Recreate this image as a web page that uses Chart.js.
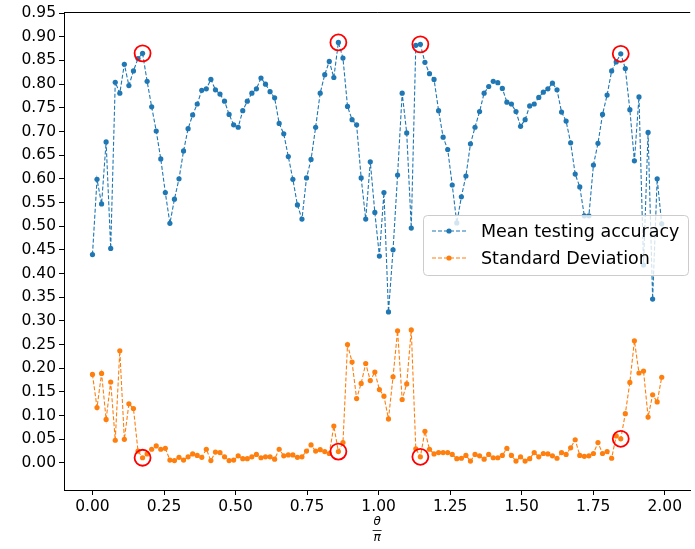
<!DOCTYPE html>
<html>
<head>
<meta charset="utf-8">
<script src="https://cdn.jsdelivr.net/npm/chart.js@4.4.1/dist/chart.umd.min.js"></script>
<style>
  html, body { margin: 0; padding: 0; background: #ffffff; overflow: hidden; }
  #wrap { position: relative; width: 700px; height: 549px; }
</style>
</head>
<body>
<div id="wrap"><canvas id="c" width="700" height="549"></canvas></div>
<script>
// theta / pi for each sample
const thetas = [
  0.0000, 0.0159, 0.0318, 0.0477, 0.0637, 0.0796, 0.0955, 0.1114, 0.1273, 0.1432,
  0.1592, 0.1751, 0.1910, 0.2069, 0.2228, 0.2387, 0.2546, 0.2706, 0.2865, 0.3024,
  0.3183, 0.3342, 0.3501, 0.3661, 0.3820, 0.3979, 0.4138, 0.4297, 0.4456, 0.4615,
  0.4775, 0.4934, 0.5093, 0.5252, 0.5411, 0.5570, 0.5730, 0.5889, 0.6048, 0.6207,
  0.6366, 0.6525, 0.6685, 0.6844, 0.7003, 0.7162, 0.7321, 0.7480, 0.7639, 0.7799,
  0.7958, 0.8117, 0.8276, 0.8435, 0.8594, 0.8754, 0.8913, 0.9072, 0.9231, 0.9390,
  0.9549, 0.9709, 0.9868, 1.0027, 1.0186, 1.0345, 1.0504, 1.0663, 1.0823, 1.0982,
  1.1141, 1.1300, 1.1459, 1.1618, 1.1778, 1.1937, 1.2096, 1.2255, 1.2414, 1.2573,
  1.2732, 1.2892, 1.3051, 1.3210, 1.3369, 1.3528, 1.3687, 1.3847, 1.4006, 1.4165,
  1.4324, 1.4483, 1.4642, 1.4801, 1.4961, 1.5120, 1.5279, 1.5438, 1.5597, 1.5756,
  1.5915, 1.6075, 1.6234, 1.6393, 1.6552, 1.6711, 1.6870, 1.7030, 1.7189, 1.7348,
  1.7507, 1.7666, 1.7825, 1.7985, 1.8144, 1.8303, 1.8462, 1.8621, 1.8780, 1.8939,
  1.9099, 1.9258, 1.9417, 1.9576, 1.9735, 1.9894
];

const accuracy = [
  0.440, 0.599, 0.547, 0.678, 0.453, 0.804, 0.781, 0.842, 0.797, 0.828,
  0.854, 0.865, 0.806, 0.752, 0.701, 0.642, 0.571, 0.506, 0.557, 0.600,
  0.659, 0.706, 0.735, 0.758, 0.787, 0.790, 0.810, 0.788, 0.779, 0.764,
  0.736, 0.714, 0.709, 0.744, 0.764, 0.781, 0.790, 0.813, 0.800, 0.784,
  0.771, 0.717, 0.695, 0.647, 0.599, 0.545, 0.515, 0.602, 0.641, 0.709,
  0.781, 0.820, 0.848, 0.814, 0.888, 0.855, 0.753, 0.725, 0.714, 0.602,
  0.515, 0.636, 0.529, 0.437, 0.571, 0.319, 0.450, 0.608, 0.781, 0.697,
  0.496, 0.882, 0.884, 0.846, 0.822, 0.810, 0.744, 0.688, 0.662, 0.587,
  0.507, 0.562, 0.606, 0.674, 0.709, 0.742, 0.781, 0.795, 0.806, 0.803,
  0.791, 0.762, 0.758, 0.742, 0.711, 0.725, 0.754, 0.758, 0.772, 0.783,
  0.790, 0.802, 0.788, 0.741, 0.722, 0.676, 0.610, 0.583, 0.522, 0.522,
  0.629, 0.675, 0.736, 0.777, 0.828, 0.847, 0.864, 0.833, 0.746, 0.638,
  0.773, 0.418, 0.698, 0.346, 0.600, 0.505
];

const stdDev = [
  0.187, 0.117, 0.189, 0.092, 0.171, 0.048, 0.237, 0.050, 0.125, 0.115,
  0.025, 0.011, 0.019, 0.029, 0.036, 0.029, 0.031, 0.006, 0.005, 0.012,
  0.006, 0.013, 0.019, 0.016, 0.012, 0.029, 0.005, 0.023, 0.022, 0.013,
  0.005, 0.006, 0.015, 0.009, 0.009, 0.013, 0.018, 0.011, 0.013, 0.013,
  0.008, 0.029, 0.015, 0.017, 0.017, 0.012, 0.013, 0.025, 0.038, 0.025,
  0.028, 0.024, 0.020, 0.078, 0.024, 0.043, 0.250, 0.213, 0.136, 0.168,
  0.210, 0.174, 0.192, 0.155, 0.141, 0.093, 0.182, 0.279, 0.134, 0.167,
  0.281, 0.030, 0.013, 0.067, 0.029, 0.019, 0.022, 0.022, 0.022, 0.018,
  0.009, 0.010, 0.016, 0.004, 0.018, 0.015, 0.008, 0.018, 0.011, 0.011,
  0.016, 0.031, 0.016, 0.004, 0.013, 0.004, 0.009, 0.022, 0.013, 0.020,
  0.019, 0.015, 0.010, 0.022, 0.018, 0.032, 0.049, 0.016, 0.014, 0.015,
  0.020, 0.043, 0.020, 0.024, 0.010, 0.057, 0.051, 0.104, 0.170, 0.258,
  0.190, 0.194, 0.097, 0.144, 0.129, 0.181
];

const highlightIdx = [11, 54, 72, 116];
const seriesLabels = ['Mean testing accuracy', 'Standard Deviation'];
const xTicks = [0.00, 0.25, 0.50, 0.75, 1.00, 1.25, 1.50, 1.75, 2.00];
const yTicks = [0.00, 0.05, 0.10, 0.15, 0.20, 0.25, 0.30, 0.35, 0.40, 0.45,
                0.50, 0.55, 0.60, 0.65, 0.70, 0.75, 0.80, 0.85, 0.90, 0.95];

const BLUE = '#1f77b4';
const ORANGE = '#ff7f0e';
const FONT = "'DejaVu Sans', sans-serif";

const toPts = arr => thetas.map((x, i) => ({ x: x, y: arr[i] }));
const hlPts = arr => highlightIdx.map(i => ({ x: thetas[i], y: arr[i] }));

const lineDs = (label, arr, color, order) => ({
  label: label,
  data: toPts(arr),
  borderColor: color,
  backgroundColor: color,
  borderWidth: 1.1,
  borderDash: [4, 2],
  pointRadius: 2.6,
  pointHoverRadius: 2.6,
  pointBorderWidth: 0,
  pointBackgroundColor: color,
  tension: 0,
  showLine: true,
  fill: false,
  order: order
});

const circleDs = (arr) => ({
  label: '_hl',
  data: hlPts(arr),
  showLine: false,
  pointRadius: 8,
  pointHoverRadius: 8,
  pointBorderWidth: 1.8,
  pointBorderColor: '#ff0000',
  pointBackgroundColor: 'rgba(0,0,0,0)',
  borderColor: '#ff0000',
  backgroundColor: 'rgba(0,0,0,0)',
  order: 0
});

const legendPlugin = {
  id: 'mplLegend',
  afterDraw(chart) {
    const ctx = chart.ctx;
    const ca = chart.chartArea;
    ctx.save();
    // top spine
    ctx.strokeStyle = '#000000';
    ctx.lineWidth = 1;
    ctx.beginPath();
    ctx.moveTo(ca.left, Math.round(ca.top) + 0.5);
    ctx.lineTo(ca.right, Math.round(ca.top) + 0.5);
    ctx.stroke();
    // legend box
    const x = 423.5, y = 215.5, w = 265, h = 60, r = 4;
    ctx.beginPath();
    ctx.moveTo(x + r, y);
    ctx.lineTo(x + w - r, y);
    ctx.arcTo(x + w, y, x + w, y + r, r);
    ctx.lineTo(x + w, y + h - r);
    ctx.arcTo(x + w, y + h, x + w - r, y + h, r);
    ctx.lineTo(x + r, y + h);
    ctx.arcTo(x, y + h, x, y + h - r, r);
    ctx.lineTo(x, y + r);
    ctx.arcTo(x, y, x + r, y, r);
    ctx.closePath();
    ctx.fillStyle = 'rgba(255,255,255,0.8)';
    ctx.fill();
    ctx.strokeStyle = '#cccccc';
    ctx.lineWidth = 1;
    ctx.stroke();
    const rows = [
      { label: seriesLabels[0], color: BLUE, cy: 231 },
      { label: seriesLabels[1], color: ORANGE, cy: 258 }
    ];
    rows.forEach(row => {
      ctx.setLineDash([4, 2]);
      ctx.strokeStyle = row.color;
      ctx.lineWidth = 1.1;
      ctx.beginPath();
      ctx.moveTo(432, row.cy);
      ctx.lineTo(466, row.cy);
      ctx.stroke();
      ctx.setLineDash([]);
      ctx.fillStyle = row.color;
      ctx.beginPath();
      ctx.arc(449, row.cy, 2.6, 0, Math.PI * 2);
      ctx.fill();
      ctx.fillStyle = '#000000';
      ctx.font = "17.5px " + FONT;
      ctx.textAlign = 'left';
      ctx.textBaseline = 'middle';
      ctx.fillText(row.label, 481, row.cy + 1);
    });
    // x axis label: theta over pi
    const cx = (ca.left + ca.right) / 2;
    ctx.fillStyle = '#000000';
    ctx.textAlign = 'center';
    ctx.textBaseline = 'middle';
    ctx.font = "italic 12px " + FONT;
    ctx.fillText('θ', cx, 522);
    ctx.fillText('π', cx, 538);
    ctx.strokeStyle = '#000000';
    ctx.lineWidth = 0.8;
    ctx.beginPath();
    ctx.moveTo(cx - 4.5, 530.5);
    ctx.lineTo(cx + 4.5, 530.5);
    ctx.stroke();
    ctx.restore();
  }
};

new Chart(document.getElementById('c'), {
  type: 'scatter',
  data: {
    datasets: [
      lineDs(seriesLabels[0], accuracy, BLUE, 3),
      lineDs(seriesLabels[1], stdDev, ORANGE, 2),
      circleDs(accuracy),
      circleDs(stdDev)
    ]
  },
  options: {
    responsive: false,
    animation: false,
    devicePixelRatio: 1,
    layout: { padding: { left: 0, top: 8, right: 1.4, bottom: 0 } },
    plugins: {
      legend: { display: false },
      tooltip: { enabled: false },
      title: { display: false }
    },
    scales: {
      x: {
        type: 'linear',
        min: -0.0995,
        max: 2.0889,
        afterFit(s) { s.height = 59; },
        afterBuildTicks(s) { s.ticks = xTicks.map(v => ({ value: v })); },
        grid: { display: true, drawOnChartArea: false, drawTicks: true, tickLength: 5, color: '#000000', lineWidth: 1 },
        border: { display: true, color: '#000000', width: 1 },
        ticks: {
          color: '#000000',
          font: { family: FONT, size: 15.5 },
          padding: 3,
          maxRotation: 0,
          autoSkip: false,
          callback: v => Number(v).toFixed(2)
        }
      },
      y: {
        type: 'linear',
        min: -0.0571,
        max: 0.9517,
        afterFit(s) { s.width = 64; },
        afterBuildTicks(s) { s.ticks = yTicks.map(v => ({ value: v })); },
        grid: { display: true, drawOnChartArea: false, drawTicks: true, tickLength: 5, color: '#000000', lineWidth: 1 },
        border: { display: true, color: '#000000', width: 1 },
        ticks: {
          color: '#000000',
          font: { family: FONT, size: 15.5 },
          padding: 3,
          autoSkip: false,
          callback: v => Number(v).toFixed(2)
        }
      }
    }
  },
  plugins: [legendPlugin]
});
</script>
</body>
</html>
